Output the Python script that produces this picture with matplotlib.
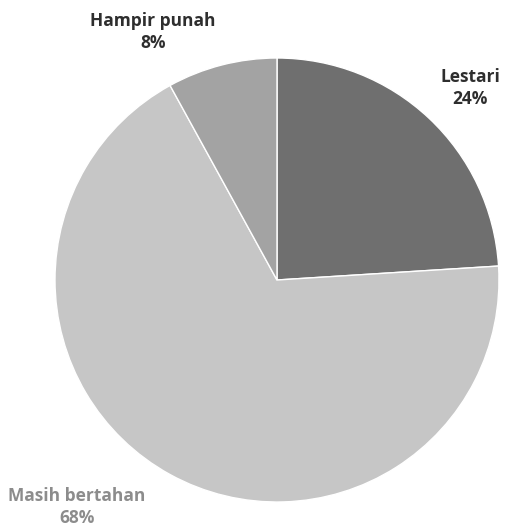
import matplotlib.pyplot as plt

labels = ["Lestari", "Masih bertahan", "Hampir punah"]
values = [24, 68, 8]
colors = ["#6f6f6f", "#c6c6c6", "#a3a3a3"]
text_colors = ["#2e2e2e", "#8c8c8c", "#2e2e2e"]
# label centres in figure pixels (x, y from top)
label_pos = [(470, 88), (77, 507), (153, 32)]

W, H = 508, 531
fig = plt.figure(figsize=(W / 100, H / 100), dpi=100)
ax = fig.add_axes([0, 0, 1, 1])

cx, cy, r = 277, H - 280, 222
ax.pie(values, colors=colors, startangle=90, counterclock=False,
       center=(cx, cy), radius=r, frame=True,
       wedgeprops={"edgecolor": "white", "linewidth": 1.0})
ax.set_xlim(0, W)
ax.set_ylim(0, H)
ax.set_aspect("equal")
ax.axis("off")

for lab, val, tc, (x, y) in zip(labels, values, text_colors, label_pos):
    ax.text(x, H - y, f"{lab}\n{val}%", ha="center", va="center",
            fontsize=12.5, fontweight="bold", color=tc, family="Open Sans",
            linespacing=1.25)

fig.savefig("out.png", dpi=100)
